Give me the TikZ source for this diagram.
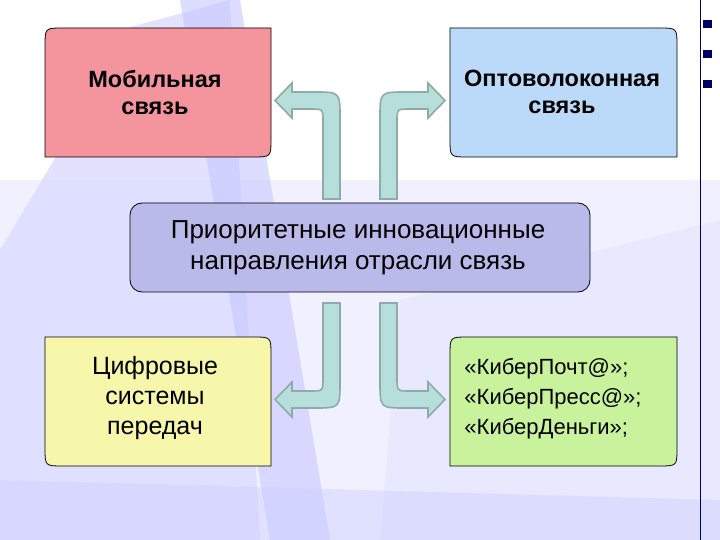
\documentclass[tikz,border=0pt]{standalone}
\usepackage{fontspec}
\setmainfont{Liberation Sans}
\begin{document}
\begin{tikzpicture}[x=1pt,y=-1pt,
  boxline/.style={draw=black,line width=0.8pt},
  bendarrow/.style={fill=arrowfill,draw=arrowline,line width=1.6pt,line join=miter},
  lbl/.style={align=center,font=\fontsize{25}{30}\selectfont}]
\definecolor{arrowfill}{HTML}{B6DEDA}
\definecolor{arrowline}{HTML}{8FAAA8}
\definecolor{pinkbox}{HTML}{F4949C}
\definecolor{bluebox}{HTML}{BBDAFA}
\definecolor{yelbox}{HTML}{F7F7AC}
\definecolor{grnbox}{HTML}{C9F29C}
\definecolor{midbox}{HTML}{BABAEA}
\useasboundingbox (0,0) rectangle (720,540);
% background
\fill[white] (0,0) rectangle (720,540);
\fill[blue!6] (0,180) rectangle (720,540);
\fill[blue!14,opacity=0.8] (0,250) -- (60,150) -- (120,30) -- (230,0) -- (260,540) -- (0,540) -- cycle;
\fill[blue!22,opacity=0.6] (180,0) -- (240,0) -- (330,540) -- (270,540) -- cycle;
\fill[blue!10,opacity=0.7] (400,300) -- (720,220) -- (720,540) -- (380,540) -- cycle;
\fill[blue!18,opacity=0.5] (0,480) -- (720,500) -- (720,540) -- (0,540) -- cycle;
\draw[blue!40!black,line width=0.8pt] (700,0) -- (700,540);
\foreach \yy in {20,50,80} \fill[blue!40!black] (703,\yy) rectangle (712,\yy+8);
% boxes
\path[boxline,fill=pinkbox] (45,46) .. controls (45,28) .. (63,28) -- (271,28) -- (271,139) .. controls (271,157) .. (253,157) -- (45,157) -- cycle;
\node[lbl,font=\fontsize{23.5}{27}\selectfont\bfseries] (mob) at (155,92) {Мобильная\\связь};
\path[boxline,fill=bluebox] (450,28) -- (659,28) .. controls (677,28) .. (677,46) -- (677,157) -- (468,157) .. controls (450,157) .. (450,139) -- cycle;
\node[lbl,font=\fontsize{23.5}{27}\selectfont\bfseries] (opt) at (562,92) {Оптоволоконная\\связь};
\path[boxline,fill=yelbox] (45,337) -- (253,337) .. controls (271,337) .. (271,355) -- (271,466) -- (63,466) .. controls (45,466) .. (45,448) -- cycle;
\node[lbl] (dig) at (155,398) {Цифровые\\системы\\передач};
\path[boxline,fill=grnbox] (450,355) .. controls (450,337) .. (468,337) -- (677,337) -- (677,448) .. controls (677,466) .. (659,466) -- (450,466) -- cycle;
\node[lbl,align=left,font=\fontsize{22}{30}\selectfont] (cyb) at (553,399) {«КиберПочт@»;\\«КиберПресс@»;\\«КиберДеньги»;};
\path[boxline,fill=midbox,rounded corners=12pt] (130,203) rectangle (590,292);
\node[lbl,font=\fontsize{26}{31}\selectfont] (mid) at (358,248) {Приоритетные инновационные\\направления отрасли связь};
% arrows
\path[bendarrow] (323,199) -- (323,122) .. controls (323,109) .. (310,109) -- (292,109) -- (292,118) -- (275,100.5) -- (292,83) -- (292,92) -- (314,92) .. controls (340,92) .. (340,118) -- (340,199) -- cycle;
\path[bendarrow] (397,199) -- (397,122) .. controls (397,109) .. (410,109) -- (428,109) -- (428,118) -- (445,100.5) -- (428,83) -- (428,92) -- (406,92) .. controls (380,92) .. (380,118) -- (380,199) -- cycle;
\path[bendarrow] (323,303) -- (323,378) .. controls (323,391) .. (310,391) -- (292,391) -- (292,382) -- (275,399.5) -- (292,417) -- (292,408) -- (314,408) .. controls (340,408) .. (340,382) -- (340,303) -- cycle;
\path[bendarrow] (397,303) -- (397,378) .. controls (397,391) .. (410,391) -- (428,391) -- (428,382) -- (445,399.5) -- (428,417) -- (428,408) -- (406,408) .. controls (380,408) .. (380,382) -- (380,303) -- cycle;
\end{tikzpicture}
\end{document}
